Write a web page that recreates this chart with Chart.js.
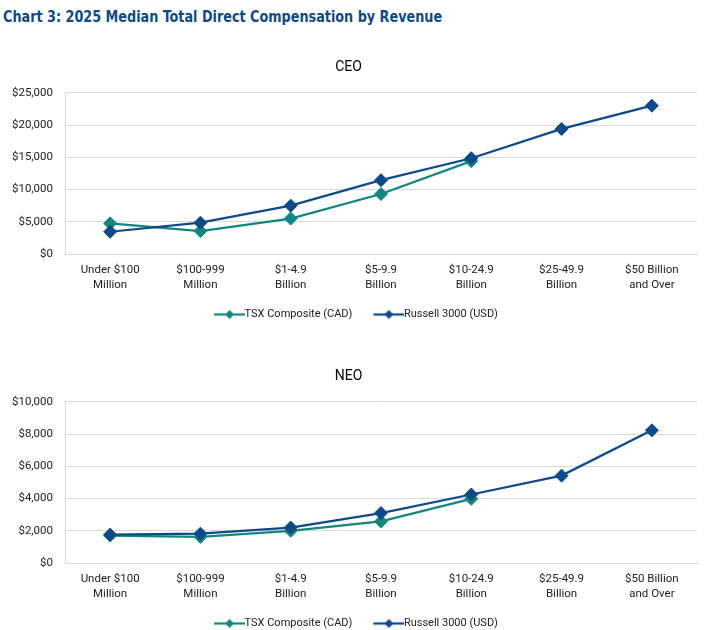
<!DOCTYPE html>
<html>
<head>
<meta charset="utf-8">
<script src="https://cdn.jsdelivr.net/npm/chart.js@4.4.1/dist/chart.umd.min.js"></script>
<style>
  html, body { margin: 0; padding: 0; background: #fff; overflow: hidden; }
  body { width: 708px; height: 630px; position: relative; }
  #titulo {
    position: absolute; left: 3px; top: 7px;
    font-family: "DejaVu Sans Condensed", "Liberation Sans Narrow", sans-serif;
    font-weight: bold; font-size: 16.5px; color: #0E4A84; white-space: nowrap;
    transform: scaleX(0.862); transform-origin: 0 0;
  }
  .caja { position: absolute; left: 0; width: 708px; height: 306px; }
</style>
</head>
<body>
<div id="titulo">Chart 3: 2025 Median Total Direct Compensation by Revenue</div>
<div class="caja" style="top:24px"><canvas id="grafico-ceo"></canvas></div>
<div class="caja" style="top:333px"><canvas id="grafico-neo"></canvas></div>
<script>
// categorías de ingresos
const categorias = [
  ["Under $100", "Million"],
  ["$100-999", "Million"],
  ["$1-4.9", "Billion"],
  ["$5-9.9", "Billion"],
  ["$10-24.9", "Billion"],
  ["$25-49.9", "Billion"],
  ["$50 Billion", "and Over"]
];
const series = ["TSX Composite (CAD)", "Russell 3000 (USD)"];

// CEO (miles)
const ceoTsx = [4750, 3550, 5500, 9300, 14400, null, null];
const ceoRussell = [3450, 4850, 7500, 11450, 14850, 19400, 23000];
const ceoTicks = [0, 5000, 10000, 15000, 20000, 25000];

// NEO (miles)
const neoTsx = [1700, 1620, 2000, 2580, 3980, null, null];
const neoRussell = [1760, 1820, 2200, 3100, 4250, 5420, 8230];
const neoTicks = [0, 2000, 4000, 6000, 8000, 10000];

const colorTsx = "#12877F";
const colorRussell = "#0E4A89";
const fuente = "Roboto, 'Liberation Sans', sans-serif";

// icono de leyenda: línea con rombo
function iconoLeyenda(color) {
  const c = document.createElement("canvas");
  c.width = 52; c.height = 12;
  const g = c.getContext("2d");
  g.strokeStyle = color;
  g.lineWidth = 2.25;
  g.beginPath();
  g.moveTo(21, 6); g.lineTo(52, 6);
  g.stroke();
  g.fillStyle = color;
  g.beginPath();
  g.moveTo(36.5, 1.5); g.lineTo(41, 6); g.lineTo(36.5, 10.5); g.lineTo(32, 6);
  g.closePath(); g.fill();
  return c;
}

function crearGrafico(id, titulo, datosTsx, datosRussell, ticks) {
  const ctx = document.getElementById(id).getContext("2d");
  const paso = ticks[1] - ticks[0];
  return new Chart(ctx, {
    type: "line",
    data: {
      labels: categorias,
      datasets: [
        {
          label: series[0],
          data: datosTsx,
          borderColor: colorTsx,
          backgroundColor: colorTsx,
          borderWidth: 2.25,
          pointStyle: "rectRot",
          pointRadius: 6.5,
          pointBorderWidth: 1,
          order: 1,
          tension: 0
        },
        {
          label: series[1],
          data: datosRussell,
          borderColor: colorRussell,
          backgroundColor: colorRussell,
          borderWidth: 2.25,
          pointStyle: "rectRot",
          pointRadius: 6.5,
          pointBorderWidth: 1,
          order: 0,
          tension: 0
        }
      ]
    },
    options: {
      responsive: true,
      maintainAspectRatio: false,
      animation: false,
      layout: { padding: { left: 0, right: 11, top: 0, bottom: 0 } },
      plugins: {
        tooltip: { enabled: false },
        title: {
          display: true,
          text: titulo,
          color: "#000",
          font: { family: fuente, size: 14, weight: "normal" },
          padding: { top: 35, bottom: 17 }
        },
        legend: {
          position: "bottom",
          labels: {
            color: "#222",
            font: { family: fuente, size: 11 },
            usePointStyle: true,
            pointStyleWidth: 40,
            padding: 6,
            generateLabels: chart => chart.data.datasets.map((d, i) => ({
              text: d.label,
              fillStyle: d.borderColor,
              strokeStyle: d.borderColor,
              fontColor: "#222",
              pointStyle: iconoLeyenda(d.borderColor),
              lineWidth: 0,
              hidden: false,
              datasetIndex: i
            }))
          }
        }
      },
      scales: {
        x: {
          offset: true,
          grid: { display: false, drawTicks: false },
          border: { display: true, color: "#D9D9D9" },
          ticks: {
            color: "#222",
            font: { family: fuente, size: 11.5, lineHeight: 1.35 },
            padding: 8,
            maxRotation: 0,
            autoSkip: false
          },
          afterFit: s => { s.height = 49; }
        },
        y: {
          min: ticks[0],
          max: ticks[ticks.length - 1],
          grid: { color: "#D9D9D9", drawTicks: false },
          border: { display: true, color: "#D9D9D9" },
          ticks: {
            stepSize: paso,
            color: "#222",
            font: { family: fuente, size: 11.5 },
            padding: 12,
            callback: v => "$" + v.toLocaleString("en-US")
          },
          afterFit: s => { s.width = 65; }
        }
      }
    }
  });
}

crearGrafico("grafico-ceo", "CEO", ceoTsx, ceoRussell, ceoTicks);
crearGrafico("grafico-neo", "NEO", neoTsx, neoRussell, neoTicks);
</script>
</body>
</html>
